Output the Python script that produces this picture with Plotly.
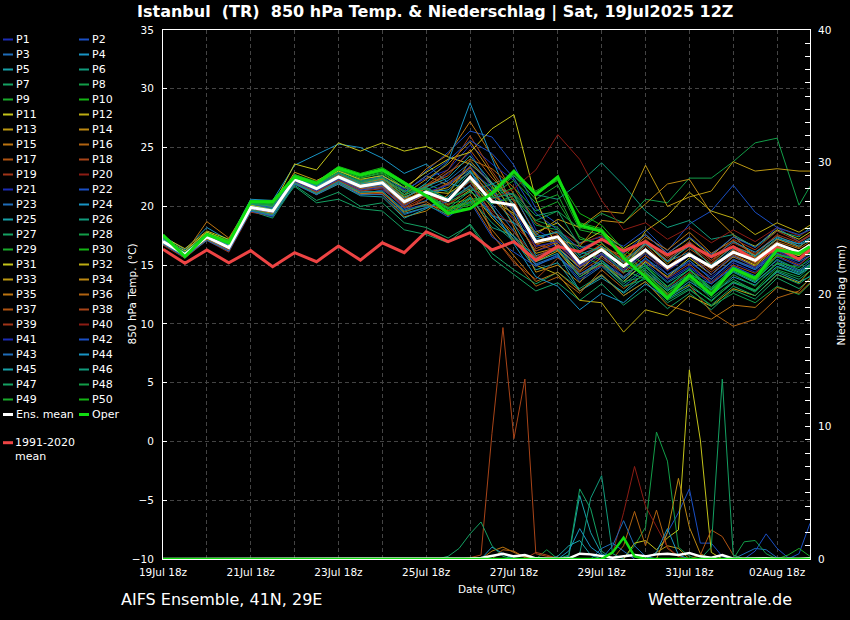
import pandas as pd
import plotly.graph_objects as go

# 12-hourly temperature steps (last step is 03Aug 12z), 6-hourly precipitation steps
t_temp = list(pd.date_range('2025-07-19 18:00', '2025-08-03 06:00', freq='12h')) + [pd.Timestamp('2025-08-03 12:00')]
t_rain = list(pd.date_range('2025-07-19 18:00', '2025-08-03 12:00', freq='6h'))

member_colors = ['#1c2db5', '#1a4fc4', '#1e6cb8', '#1894c4', '#18a0a8', '#119b7c', '#14a062',
                 '#129d48', '#1aaa2c', '#14b414', '#c4c41a', '#bcac12', '#bc9812', '#bc8812',
                 '#bc7410', '#b06210', '#b05412', '#a84418', '#a03418', '#8c1c14']

# 850 hPa temperature (deg C) of the 50 members
member_temp = [
    [16.9, 15.7, 17.2, 16.2, 19.6, 19.1, 22.0, 21.2, 22.0, 21.0, 21.4, 20.2, 21.6, 22.8, 24.6, 21.5, 19.0, 16.2, 16.8, 14.6, 15.8, 14.0, 15.5, 13.8, 14.9, 13.6, 15.2, 14.4, 16.0, 15.1, 15.8],  # P1
    [17.2, 16.0, 17.6, 16.7, 20.0, 19.8, 22.4, 21.9, 22.9, 22.0, 22.6, 21.5, 23.0, 24.6, 26.4, 25.9, 23.5, 19.8, 18.5, 16.9, 17.4, 16.6, 18.0, 16.2, 18.5, 19.6, 21.8, 19.5, 18.2, 17.0, 17.5],  # P2
    [17.1, 15.8, 17.5, 16.4, 19.7, 19.5, 22.1, 21.0, 22.3, 21.4, 21.7, 19.8, 20.5, 21.9, 23.1, 20.2, 17.9, 15.1, 15.8, 13.6, 14.9, 13.2, 14.6, 13.0, 14.2, 13.4, 14.8, 13.9, 15.4, 14.5, 15.1],  # P3
    [17.5, 16.3, 18.2, 17.1, 20.6, 20.5, 23.5, 24.4, 25.3, 25.0, 24.1, 22.8, 23.6, 22.0, 21.4, 19.2, 18.6, 17.2, 17.9, 15.9, 16.6, 15.2, 16.8, 15.3, 16.1, 14.8, 16.4, 15.7, 17.2, 16.8, 17.0],  # P4
    [16.8, 15.6, 17.3, 16.3, 19.8, 19.4, 22.0, 21.3, 22.1, 21.3, 21.2, 19.4, 19.9, 20.6, 22.2, 19.3, 17.2, 14.6, 15.2, 12.8, 14.1, 12.6, 14.0, 12.1, 13.2, 12.0, 13.5, 12.8, 14.4, 13.6, 14.0],  # P5
    [17.0, 15.9, 17.5, 16.6, 20.1, 19.9, 22.5, 21.6, 22.7, 21.9, 22.3, 20.6, 21.0, 19.5, 20.8, 18.2, 17.5, 15.6, 16.3, 14.2, 15.2, 13.9, 15.0, 13.5, 14.6, 13.1, 14.7, 13.7, 15.5, 14.6, 15.3],  # P6
    [16.9, 15.8, 17.2, 16.3, 19.6, 19.0, 21.8, 20.5, 21.2, 20.0, 20.3, 18.6, 18.2, 17.3, 18.4, 15.6, 14.2, 12.8, 13.5, 12.0, 13.4, 11.6, 13.0, 11.3, 12.6, 11.2, 12.9, 12.1, 13.9, 13.0, 13.8],  # P7
    [17.3, 16.0, 17.7, 16.8, 20.3, 20.1, 22.6, 21.8, 22.9, 22.0, 22.4, 20.9, 21.9, 21.2, 23.0, 21.6, 21.0, 18.8, 19.6, 18.1, 19.4, 18.6, 20.6, 20.3, 22.4, 22.4, 23.8, 25.4, 25.8, 20.1, 21.7],  # P8
    [17.5, 15.8, 17.6, 16.9, 20.4, 20.3, 22.6, 22.0, 23.2, 22.5, 23.0, 21.8, 21.2, 19.8, 20.3, 21.0, 22.6, 20.6, 21.8, 18.0, 17.6, 15.9, 14.6, 12.8, 14.4, 12.9, 14.9, 14.0, 16.2, 15.8, 16.3],  # P9
    [17.6, 15.9, 17.7, 17.0, 20.5, 20.5, 22.7, 22.1, 23.4, 22.8, 23.3, 22.1, 20.8, 19.6, 19.9, 21.3, 22.8, 21.2, 22.2, 18.6, 18.1, 16.0, 14.4, 12.4, 14.0, 12.7, 14.5, 13.6, 15.9, 15.6, 16.2],  # P10
    [17.4, 16.4, 17.9, 17.2, 20.2, 20.0, 23.6, 23.1, 25.4, 24.7, 25.4, 24.7, 25.1, 24.2, 23.6, 22.0, 19.5, 17.8, 18.6, 16.8, 17.9, 16.4, 17.6, 16.0, 17.3, 15.8, 17.4, 16.6, 18.0, 17.2, 17.8],  # P11
    [17.1, 16.2, 17.8, 16.9, 20.0, 19.7, 22.5, 21.8, 22.6, 21.9, 22.2, 20.8, 21.5, 20.1, 21.4, 19.0, 17.1, 15.0, 14.2, 12.0, 11.8, 9.3, 11.2, 10.7, 12.4, 11.5, 13.0, 12.4, 14.2, 13.5, 14.5],  # P12
    [17.2, 16.1, 17.7, 16.8, 20.2, 19.9, 22.9, 22.2, 23.1, 22.2, 22.4, 21.2, 22.6, 21.8, 23.4, 20.5, 19.4, 17.6, 18.9, 18.2, 19.6, 19.4, 23.5, 20.0, 20.8, 21.3, 23.8, 23.0, 23.2, 23.0, 23.0],  # P13
    [16.8, 15.9, 17.4, 16.4, 19.9, 19.5, 22.2, 21.2, 22.2, 21.1, 21.0, 19.1, 19.6, 21.0, 23.9, 21.8, 18.2, 14.4, 15.0, 13.5, 15.8, 14.4, 16.1, 14.6, 15.8, 14.2, 15.7, 14.9, 16.4, 15.6, 16.2],  # P14
    [17.0, 16.0, 18.7, 17.3, 20.3, 19.6, 22.6, 21.9, 22.8, 22.0, 22.3, 21.3, 23.2, 24.4, 27.2, 24.3, 21.0, 17.5, 16.8, 15.0, 16.5, 15.8, 17.4, 16.3, 17.8, 16.0, 17.1, 15.8, 17.2, 16.5, 17.3],  # P15
    [16.9, 15.7, 17.3, 16.3, 19.7, 19.3, 22.0, 21.2, 22.2, 21.4, 21.6, 19.9, 20.4, 19.2, 20.6, 17.6, 15.4, 13.2, 14.0, 12.6, 14.6, 13.0, 14.3, 12.5, 13.3, 11.0, 9.8, 10.4, 12.2, 12.8, 13.9],  # P16
    [17.2, 16.1, 17.6, 16.6, 20.0, 19.7, 22.4, 21.7, 22.7, 22.0, 22.4, 20.7, 21.8, 22.6, 24.8, 22.4, 20.6, 16.4, 17.1, 14.9, 16.0, 14.6, 16.7, 14.8, 16.4, 15.1, 16.6, 15.9, 17.5, 16.6, 17.2],  # P17
    [17.0, 15.8, 17.5, 16.5, 19.8, 19.4, 22.2, 21.4, 22.4, 21.6, 21.8, 20.1, 21.0, 21.9, 22.8, 17.6, 15.2, 13.8, 15.6, 14.4, 15.6, 14.3, 15.8, 14.6, 15.9, 14.4, 15.9, 15.1, 16.6, 15.8, 16.4],  # P18
    [16.7, 15.6, 17.1, 16.1, 19.5, 19.2, 21.9, 21.0, 21.9, 21.0, 21.1, 19.6, 20.8, 20.4, 22.6, 20.9, 19.8, 16.9, 17.6, 15.6, 16.8, 15.5, 17.1, 15.4, 16.8, 15.2, 16.9, 16.0, 17.6, 16.9, 17.5],  # P19
    [17.1, 15.9, 17.4, 16.6, 19.9, 19.6, 22.3, 21.6, 22.6, 21.8, 22.1, 20.5, 21.3, 20.0, 21.8, 19.6, 18.4, 16.6, 17.9, 16.8, 17.5, 15.6, 14.2, 13.1, 14.4, 13.8, 15.4, 14.8, 16.1, 15.4, 16.0],  # P20
    [17.3, 16.0, 17.5, 16.7, 20.1, 19.8, 22.4, 21.7, 22.8, 22.1, 22.6, 21.4, 22.4, 23.1, 25.2, 23.6, 22.2, 18.0, 17.0, 15.0, 15.9, 14.5, 16.0, 14.2, 15.2, 14.0, 15.4, 14.6, 16.2, 15.4, 16.0],  # P21
    [16.8, 15.7, 17.2, 16.2, 19.6, 19.2, 21.9, 21.1, 22.1, 21.2, 21.3, 19.7, 20.2, 19.1, 20.4, 17.4, 16.1, 14.9, 15.9, 13.8, 15.0, 13.6, 15.2, 13.6, 14.8, 13.4, 14.9, 14.1, 15.7, 14.9, 15.4],  # P22
    [17.0, 15.9, 17.3, 16.5, 19.9, 19.7, 22.2, 21.4, 22.4, 21.5, 21.8, 20.2, 21.4, 22.2, 23.7, 21.9, 20.9, 17.7, 16.6, 14.2, 15.4, 13.8, 15.6, 13.9, 15.4, 13.8, 15.5, 14.7, 16.3, 15.5, 16.1],  # P23
    [17.1, 16.0, 17.6, 16.6, 19.9, 19.5, 22.5, 21.7, 22.7, 21.8, 22.0, 20.6, 22.0, 23.8, 28.8, 24.1, 19.6, 15.8, 16.4, 14.8, 16.0, 14.9, 16.8, 15.4, 16.9, 15.6, 17.0, 16.1, 17.4, 16.8, 17.3],  # P24
    [16.9, 15.7, 17.2, 16.3, 19.7, 19.2, 22.0, 21.0, 21.9, 20.9, 20.8, 19.0, 19.8, 20.8, 22.9, 21.0, 18.5, 15.3, 16.0, 12.8, 13.9, 12.7, 14.4, 12.8, 14.1, 12.9, 14.4, 13.5, 15.2, 14.4, 15.0],  # P25
    [17.2, 16.0, 17.5, 16.7, 20.1, 19.8, 22.4, 21.6, 22.6, 21.8, 22.1, 20.6, 20.9, 19.8, 21.3, 21.9, 22.6, 21.0, 20.6, 22.0, 23.7, 21.8, 19.6, 18.2, 18.8, 17.2, 17.6, 16.5, 17.9, 17.4, 18.2],  # P26
    [17.0, 15.8, 17.4, 16.5, 19.8, 19.3, 21.7, 20.3, 20.6, 19.8, 19.6, 18.0, 17.6, 16.9, 18.5, 16.0, 14.6, 13.4, 14.4, 13.0, 14.2, 12.4, 13.6, 11.8, 12.9, 11.6, 13.2, 12.4, 14.2, 13.4, 14.1],  # P27
    [17.4, 16.1, 17.7, 16.9, 20.3, 20.1, 22.7, 21.9, 23.0, 22.2, 22.7, 21.3, 21.6, 20.6, 21.7, 20.4, 20.6, 18.8, 18.2, 15.8, 15.0, 13.2, 13.8, 12.0, 13.0, 11.5, 12.6, 11.8, 13.2, 12.5, 13.4],  # P28
    [17.5, 16.0, 17.7, 17.0, 20.4, 20.2, 22.7, 22.0, 23.1, 22.4, 22.8, 21.6, 21.4, 20.2, 20.6, 20.8, 21.6, 19.6, 20.4, 17.4, 16.6, 14.6, 13.8, 12.2, 13.4, 11.9, 13.6, 12.9, 14.8, 14.2, 15.0],  # P29
    [17.6, 16.0, 17.8, 17.1, 20.4, 20.4, 22.6, 22.0, 23.3, 22.6, 23.2, 21.9, 21.0, 19.9, 20.2, 21.5, 22.9, 21.3, 22.4, 19.4, 18.4, 16.3, 15.0, 13.1, 14.7, 13.0, 14.6, 13.8, 15.9, 15.5, 16.0],  # P30
    [17.3, 16.2, 17.8, 17.0, 20.1, 19.7, 22.6, 22.0, 23.0, 22.3, 22.6, 21.6, 22.9, 24.0, 24.6, 26.6, 27.8, 20.6, 16.2, 14.0, 15.2, 13.6, 15.3, 14.0, 15.6, 14.2, 15.8, 15.0, 16.6, 15.8, 16.6],  # P31
    [17.0, 16.1, 17.6, 16.8, 19.9, 19.5, 22.4, 21.6, 22.5, 21.8, 22.1, 20.6, 21.3, 21.1, 22.3, 19.9, 17.4, 15.3, 16.2, 14.5, 16.3, 15.0, 17.9, 19.2, 21.2, 19.6, 19.0, 17.6, 18.6, 17.8, 18.4],  # P32
    [16.9, 15.8, 17.3, 16.4, 19.8, 19.4, 22.1, 21.3, 22.3, 21.4, 21.6, 20.0, 21.1, 21.6, 23.3, 21.2, 19.2, 16.0, 16.5, 14.8, 16.5, 14.9, 16.9, 15.1, 16.8, 14.9, 16.2, 15.2, 16.6, 15.9, 16.5],  # P33
    [17.2, 16.1, 17.6, 16.7, 20.0, 19.7, 22.4, 21.6, 22.7, 21.9, 22.4, 21.0, 22.3, 23.6, 25.5, 22.8, 20.0, 16.8, 17.2, 16.6, 18.8, 18.6, 20.2, 21.9, 22.3, 19.4, 17.6, 15.6, 16.8, 16.2, 16.8],  # P34
    [16.8, 15.8, 17.2, 16.3, 19.7, 19.3, 22.0, 21.1, 22.0, 21.1, 21.2, 19.5, 20.2, 19.6, 21.0, 18.0, 15.8, 13.6, 14.4, 12.8, 14.2, 12.4, 13.6, 11.6, 11.0, 10.4, 11.6, 11.4, 13.1, 12.6, 13.5],  # P35
    [17.1, 16.0, 17.6, 16.6, 20.0, 19.6, 22.3, 21.5, 22.6, 21.7, 22.0, 20.4, 21.6, 22.9, 24.0, 23.2, 21.6, 18.6, 17.6, 15.4, 16.8, 15.4, 17.2, 15.6, 17.0, 15.4, 16.6, 15.6, 17.0, 16.4, 17.0],  # P36
    [17.0, 15.9, 17.5, 16.4, 19.8, 19.5, 22.2, 21.3, 22.3, 21.5, 21.7, 20.2, 21.0, 22.0, 23.3, 20.6, 18.9, 16.2, 17.0, 14.8, 16.0, 14.6, 16.3, 14.6, 16.1, 14.6, 16.3, 15.3, 16.8, 16.1, 16.7],  # P37
    [17.2, 16.0, 17.5, 16.6, 20.0, 19.6, 22.2, 21.6, 22.7, 21.9, 22.2, 20.6, 21.8, 23.1, 26.0, 23.0, 20.4, 16.8, 16.2, 14.2, 15.0, 14.0, 15.4, 13.9, 15.1, 13.5, 15.0, 14.3, 15.8, 15.0, 15.8],  # P38
    [16.9, 15.7, 17.3, 16.3, 19.7, 19.3, 22.0, 21.2, 22.2, 21.3, 21.5, 19.9, 20.8, 20.6, 22.1, 19.4, 17.8, 15.7, 16.7, 15.2, 16.6, 15.2, 16.9, 15.4, 17.0, 15.4, 17.2, 16.3, 17.9, 17.0, 17.6],  # P39
    [17.1, 15.9, 17.5, 16.5, 19.9, 19.5, 22.3, 21.5, 22.5, 21.6, 21.9, 20.4, 21.2, 20.2, 21.6, 20.6, 21.5, 23.1, 26.1, 24.0, 20.5, 18.0, 18.6, 17.2, 18.2, 16.9, 18.0, 17.0, 18.2, 17.5, 18.0],  # P40
    [17.0, 15.8, 17.3, 16.4, 19.8, 19.5, 22.1, 21.3, 22.3, 21.4, 21.6, 20.0, 21.2, 21.8, 23.4, 21.3, 19.6, 16.6, 17.0, 14.9, 16.0, 14.6, 16.2, 14.5, 15.8, 14.2, 15.8, 14.8, 16.3, 15.6, 16.2],  # P41
    [17.3, 16.1, 17.6, 16.8, 20.2, 19.9, 22.5, 21.8, 22.8, 22.1, 22.5, 21.2, 22.6, 23.9, 25.6, 24.5, 22.4, 19.4, 18.0, 16.4, 17.2, 16.0, 17.6, 16.0, 17.4, 15.9, 17.4, 16.5, 18.2, 17.6, 18.0],  # P42
    [16.8, 15.7, 17.1, 16.2, 19.6, 19.2, 21.9, 21.0, 22.0, 21.0, 21.0, 19.3, 19.9, 20.4, 21.8, 19.2, 17.4, 15.0, 15.7, 14.2, 15.4, 14.0, 15.6, 14.2, 15.4, 13.8, 15.4, 14.6, 16.0, 15.3, 15.8],  # P43
    [17.1, 16.0, 17.5, 16.6, 19.9, 19.6, 22.3, 21.4, 22.4, 21.6, 21.9, 20.3, 21.2, 21.4, 23.0, 20.0, 16.8, 14.0, 13.2, 11.2, 12.6, 11.8, 13.4, 12.2, 13.6, 12.4, 14.0, 13.3, 14.9, 14.2, 14.8],  # P44
    [17.2, 16.0, 17.6, 16.7, 20.0, 19.7, 22.4, 21.7, 22.6, 21.9, 22.2, 20.7, 21.7, 22.4, 24.3, 22.0, 20.2, 17.4, 17.8, 15.6, 16.6, 15.3, 16.9, 15.3, 16.6, 15.0, 16.6, 15.8, 17.3, 16.6, 17.2],  # P45
    [16.9, 15.8, 17.3, 16.4, 19.7, 19.3, 22.0, 21.1, 22.1, 21.2, 21.3, 19.6, 20.1, 19.3, 20.7, 18.6, 17.0, 15.4, 16.4, 14.0, 15.2, 13.4, 14.8, 13.2, 14.6, 12.9, 14.5, 13.6, 15.1, 14.3, 14.9],  # P46
    [17.3, 16.0, 17.6, 16.8, 20.2, 20.0, 22.5, 21.8, 22.8, 22.0, 22.4, 21.0, 21.6, 20.6, 21.5, 20.7, 21.1, 19.2, 19.6, 16.6, 16.2, 14.4, 14.9, 12.9, 13.8, 12.6, 13.8, 12.8, 14.5, 13.8, 14.5],  # P47
    [17.4, 16.1, 17.7, 16.9, 20.3, 20.1, 22.6, 21.9, 22.9, 22.1, 22.5, 21.2, 21.5, 20.4, 21.2, 20.2, 20.9, 18.4, 18.0, 16.2, 15.4, 13.6, 14.0, 12.4, 13.8, 12.2, 13.6, 12.7, 14.6, 14.0, 14.8],  # P48
    [17.5, 16.0, 17.6, 16.9, 20.4, 20.2, 22.6, 22.0, 23.1, 22.4, 22.9, 21.6, 21.0, 19.9, 20.4, 21.0, 22.2, 20.3, 21.0, 17.2, 16.9, 15.0, 14.2, 12.6, 13.9, 12.4, 14.2, 13.2, 15.2, 14.8, 15.6],  # P49
    [17.5, 15.9, 17.7, 17.0, 20.4, 20.4, 22.6, 22.0, 23.2, 22.6, 23.1, 21.9, 20.9, 19.7, 20.1, 21.2, 22.7, 21.0, 22.3, 18.2, 17.8, 15.8, 14.3, 12.6, 14.2, 12.8, 14.6, 13.7, 15.8, 15.5, 16.1],  # P50
]

ens_mean_temp = [17.0, 15.9, 17.4, 16.5, 19.9, 19.6, 22.3, 21.5, 22.5, 21.7, 22.0, 20.4, 21.2, 20.5, 22.5, 20.4,
                 20.1, 17.0, 17.4, 15.2, 16.3, 14.9, 16.3, 14.8, 15.9, 14.85, 16.1, 15.4, 16.8, 16.1, 16.7]
oper_temp = [17.56, 15.72, 17.6, 16.9, 20.4, 20.4, 22.5, 21.96, 23.24, 22.66, 23.1, 22.0, 20.9, 19.4, 19.8, 21.1,
             23.0, 21.0, 22.5, 18.4, 17.9, 15.6, 14.0, 12.2, 14.16, 12.5, 14.7, 13.88, 16.29, 16.0, 16.57]
clim_temp = [16.35, 15.15, 16.29, 15.2, 16.23, 14.87, 16.06, 15.29, 16.63, 15.43, 16.9, 16.06, 17.84, 17.0, 17.76,
             16.29, 17.0, 15.43, 16.57, 16.14, 17.2, 16.2, 17.0, 15.86, 16.71, 15.72, 16.57, 15.38, 16.48, 15.5, 16.3]

# 6-hourly precipitation (mm): member -> (first 6h step, values)
member_rain = {
    2: (45, [0, 2.0, 3.5, 5.3, 1.2, 1.2, 0.2, 0]),
    3: (52, [0, 0.4, 0.8, 0.7, 0.1, 0]),
    4: (29, [0, 0.9, 0.4, 0]),
    5: (36, [0, 0.2, 4.8, 2.0, 0.4, 0]),
    7: (36, [0, 0.3, 5.3, 3.8, 0.6, 0]),
    8: (34, [0, 0.7, 0, 0, 0, 0, 0, 0, 0, 1.0, 2.4, 9.6, 7.4, 0.9, 0.2, 0]),
    11: (42, [0, 1.2, 1.4, 0.7, 1.6, 2.2, 14.3, 9.0, 0.5, 0]),
    13: (44, [0, 0.5, 1.0, 0.8, 0]),
    14: (45, [0, 2.0, 6.1, 2.4, 0.4, 0]),
    15: (29, [0, 0.6, 0.9, 0.5, 0.2, 0]),
    16: (41, [0, 1.0, 3.6, 1.0, 3.7, 0.8, 0.2, 0]),
    17: (48, [0, 0.3, 2.2, 1.7, 0.3, 0]),
    18: (27, [0, 0.1, 0.3, 9.5, 17.5, 9.1, 13.6, 0.4, 0.2, 0.1, 0]),
    20: (40, [0, 0.4, 3.5, 7.0, 4.0, 2.5, 0.9, 0.2, 0]),
    22: (53, [0, 0.6, 1.9, 0.8, 0.1, 0]),
    23: (39, [0, 0.8, 1.2, 0.6, 0]),
    24: (44, [0, 0.5, 2.3, 0.3, 0]),
    26: (37, [0, 0.4, 4.6, 6.3, 0.4, 0]),
    27: (25, [0, 0.2, 0.8, 1.9, 2.8, 1.0, 0.2, 0]),
    28: (52, [0, 1.3, 1.4, 0.4, 0]),
    36: (30, [0, 0.7, 0.6, 0.1, 0]),
    38: (33, [0, 0.5, 0.3, 0]),
    42: (57, [0, 0.4, 2.7]),
    43: (40, [0, 1.0, 2.9, 1.0, 0.2, 0]),
    44: (36, [0, 0.6, 2.3, 0.9, 0.3, 0]),
    45: (35, [0, 0.2, 1.0, 1.4, 0.3, 0]),
    47: (49, [0, 0.9, 13.6, 0.3, 0]),
    49: (56, [0, 0.3, 0.8, 0.2]),
}

ens_mean_rain = [0, 0, 0, 0, 0, 0, 0, 0, 0, 0,
                 0, 0, 0, 0, 0, 0, 0, 0, 0, 0,
                 0, 0, 0, 0, 0, 0, 0, 0.02, 0.05, 0.07,
                 0.25, 0.4, 0.2, 0.3, 0.05, 0.03, 0.02, 0.05, 0.4, 0.35,
                 0.2, 0.1, 0.2, 0.3, 0.2, 0.35, 0.4, 0.3, 0.45, 0.2,
                 0.1, 0.3, 0.02, 0.05, 0.05, 0.06, 0.02, 0.01, 0.02, 0.06]
oper_rain = [0, 0, 0, 0, 0, 0, 0, 0, 0, 0,
             0, 0, 0, 0, 0, 0, 0, 0, 0, 0,
             0, 0, 0, 0, 0, 0, 0, 0, 0, 0,
             0, 0, 0, 0, 0, 0, 0, 0, 0, 0,
             0, 0.5, 1.6, 0.2, 0, 0, 0, 0, 0, 0,
             0, 0, 0, 0, 0, 0, 0, 0, 0, 0]

MEAN_COLOR = '#ffffff'
OPER_COLOR = '#11dd11'
CLIM_COLOR = '#ee4444'
GRID = '#444444'

# plot area in pixels: x 163..810, y 30..559
L, R, T, B = 163, 810, 30, 559


def px_x(px):
    return (px - L) / (R - L)


def px_y(py):
    return (B - py) / (B - T)


fig = go.Figure()

for i, temps in enumerate(member_temp):
    fig.add_trace(go.Scatter(x=t_temp, y=temps, mode='lines', name='P' + str(i + 1),
                             line=dict(color=member_colors[i % 20], width=1)))

fig.add_trace(go.Scatter(x=t_temp, y=clim_temp, mode='lines', name='1991-2020 mean',
                         line=dict(color=CLIM_COLOR, width=3)))
fig.add_trace(go.Scatter(x=t_temp, y=ens_mean_temp, mode='lines', name='Ens. mean',
                         line=dict(color=MEAN_COLOR, width=3)))
fig.add_trace(go.Scatter(x=t_temp, y=oper_temp, mode='lines', name='Oper',
                         line=dict(color=OPER_COLOR, width=3)))

for m, (start, vals) in member_rain.items():
    fig.add_trace(go.Scatter(x=t_rain[start:start + len(vals)], y=vals, mode='lines', yaxis='y2',
                             line=dict(color=member_colors[(m - 1) % 20], width=1)))

fig.add_trace(go.Scatter(x=t_rain, y=ens_mean_rain, mode='lines', yaxis='y2',
                         line=dict(color=MEAN_COLOR, width=2.5)))
fig.add_trace(go.Scatter(x=t_rain, y=oper_rain, mode='lines', yaxis='y2',
                         line=dict(color=OPER_COLOR, width=2.5)))

# hand-drawn legend in two columns, like the original
annotations = []
shapes = []
entries = [('P' + str(i + 1), member_colors[i % 20], 2) for i in range(50)]
entries += [('Ens. mean', MEAN_COLOR, 3), ('Oper', OPER_COLOR, 3)]
for i, (label, color, w) in enumerate(entries):
    row, col = divmod(i, 2)
    y = 39.5 + 15 * row
    x0 = 3 if col == 0 else 79
    shapes.append(dict(type='line', xref='paper', yref='paper', x0=px_x(x0), x1=px_x(x0 + 10),
                       y0=px_y(y), y1=px_y(y), line=dict(color=color, width=w)))
    annotations.append(dict(text=label, x=px_x(x0 + 10.5), y=px_y(y), xanchor='left', yanchor='middle'))
shapes.append(dict(type='line', xref='paper', yref='paper', x0=px_x(3), x1=px_x(13),
                   y0=px_y(442.7), y1=px_y(442.7), line=dict(color=CLIM_COLOR, width=3)))
annotations.append(dict(text='1991-2020<br>mean', x=px_x(13.5), y=px_y(435), xanchor='left',
                        yanchor='top', align='left', borderpad=0))
for a in annotations:
    a.update(xref='paper', yref='paper', showarrow=False, font=dict(size=11, color='white'))

annotations += [
    dict(text='<b>Istanbul\u00a0 (TR)\u00a0 850 hPa Temp. &amp; Niederschlag | Sat, 19Jul2025 12Z</b>',
         x=px_x(435), y=px_y(12), font=dict(size=16)),
    dict(text='850 hPa Temp. (°C)', x=px_x(131), y=px_y(294.5), textangle=-90, font=dict(size=10.5)),
    dict(text='Niederschlag (mm)', x=px_x(840), y=px_y(294.5), textangle=-90, font=dict(size=10.5)),
    dict(text='Date (UTC)', x=px_x(486), y=px_y(589), font=dict(size=10.5)),
    dict(text='AIFS Ensemble, 41N, 29E', x=px_x(119), y=px_y(599), xanchor='left', font=dict(size=16)),
    dict(text='Wetterzentrale.de', x=px_x(794), y=px_y(599), xanchor='right', font=dict(size=16)),
]
for a in annotations[-6:]:
    a.update(xref='paper', yref='paper', showarrow=False, yanchor='middle')
    a.setdefault('xanchor', 'center')
    a['font']['color'] = 'white'

fig.update_layout(
    width=850, height=620,
    margin=dict(l=L, r=850 - R, t=T, b=620 - B),
    paper_bgcolor='black', plot_bgcolor='black',
    showlegend=False,
    font=dict(family='DejaVu Sans', color='white', size=10.5),
    xaxis=dict(type='date', range=['2025-07-19 18:00', '2025-08-03 12:00'],
               tick0='2025-07-19 18:00', dtick=2 * 86400000, tickformat='%d%b %Hz',
               showgrid=True, gridcolor=GRID, griddash='4px,3px', gridwidth=1,
               minor=dict(tick0='2025-07-19 18:00', dtick=86400000, showgrid=True,
                          gridcolor=GRID, griddash='4px,3px'),
               showline=True, linecolor='white', linewidth=1, mirror=True, ticks='',
               zeroline=False, tickfont=dict(size=10.5, color='white'), ticklabelstandoff=3),
    yaxis=dict(range=[-10, 35], dtick=5, showgrid=True, gridcolor=GRID, griddash='4px,3px',
               showline=True, linecolor='white', linewidth=1, mirror=True,
               ticks='inside', ticklen=4, tickcolor='white', zeroline=False,
               tickfont=dict(size=10.5, color='white'), ticklabelstandoff=6),
    yaxis2=dict(range=[0, 40], overlaying='y', side='right', dtick=10, showgrid=False,
                ticks='inside', ticklen=5, tickcolor='white',
                minor=dict(dtick=1, ticks='inside', ticklen=5, tickcolor='white'),
                showline=True, linecolor='white', zeroline=False,
                tickfont=dict(size=10.5, color='white'), ticklabelstandoff=5),
    annotations=annotations,
    shapes=shapes,
)

# the page's default 8px body margin would shift the whole chart
fig.write_html('out.html', config={'displayModeBar': False},
               post_script="document.body.style.margin = '0px';")
